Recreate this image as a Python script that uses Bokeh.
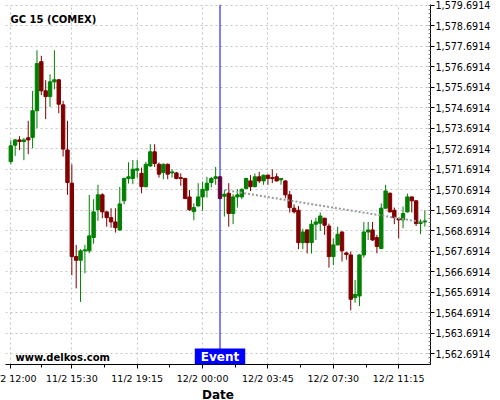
from bokeh.plotting import figure
from bokeh.models import FixedTicker, NumeralTickFormatter, Label, Span, ColumnDataSource
from bokeh.embed import file_html
from bokeh.resources import INLINE

# ---- data (15-minute bars, indexed by bar number) ----
opens = [1572.06, 1572.86, 1573.12, 1573.04, 1573.22, 1573.24, 1574.54, 1576.93, 1575.51, 1575.23,
         1575.95, 1576.05, 1574.83, 1572.63, 1571.01, 1567.43, 1567.25, 1567.71, 1567.71, 1568.36,
         1569.71, 1570.44, 1569.61, 1569.33, 1569.12, 1568.73, 1570.15, 1571.24, 1571.24, 1571.64,
         1571.49, 1570.84, 1571.85, 1572.54, 1571.93, 1571.53, 1571.93, 1571.51, 1571.51, 1571.28,
         1571.24, 1570.34, 1569.62, 1569.90, 1570.34, 1570.67, 1571.04, 1571.24, 1571.32, 1570.37,
         1570.52, 1569.53, 1570.34, 1570.34, 1570.75, 1571.12, 1570.84, 1571.32, 1571.12, 1571.40,
         1571.28, 1571.32, 1571.17, 1571.12, 1570.44, 1569.79, 1569.69, 1568.11, 1568.73, 1568.11,
         1569.01, 1569.06, 1569.30, 1568.92, 1567.43, 1568.00, 1568.63, 1567.61, 1567.51, 1565.43,
         1565.51, 1567.51, 1568.63, 1568.73, 1568.36, 1567.82, 1569.79, 1570.52, 1569.69, 1569.28,
         1569.22, 1569.61, 1570.34, 1570.15, 1569.04, 1569.12]
highs = [1573.10, 1573.15, 1573.30, 1573.22, 1574.05, 1575.51, 1577.49, 1577.22, 1576.03, 1576.32,
         1577.49, 1576.08, 1575.02, 1574.05, 1571.93, 1568.00, 1567.79, 1568.00, 1570.44, 1570.23,
         1570.93, 1570.52, 1569.64, 1569.79, 1569.79, 1570.83, 1571.28, 1572.03, 1572.14, 1572.14,
         1571.77, 1572.05, 1572.91, 1572.91, 1572.02, 1571.97, 1571.97, 1571.69, 1571.56, 1571.49,
         1571.27, 1570.68, 1570.03, 1571.01, 1571.09, 1571.32, 1571.32, 1571.80, 1571.35, 1570.68,
         1571.01, 1570.47, 1570.71, 1570.75, 1571.27, 1571.40, 1571.48, 1571.56, 1571.42, 1571.43,
         1571.69, 1571.49, 1571.26, 1571.15, 1570.63, 1569.98, 1569.90, 1568.79, 1568.76, 1569.22,
         1569.33, 1569.58, 1569.33, 1569.04, 1568.32, 1568.89, 1568.66, 1567.66, 1567.67, 1566.29,
         1567.54, 1569.12, 1569.12, 1569.12, 1568.49, 1570.02, 1570.93, 1570.55, 1569.82, 1569.33,
         1569.87, 1570.50, 1570.36, 1570.18, 1569.25, 1569.69]
lows = [1571.93, 1572.34, 1572.62, 1572.13, 1572.42, 1572.71, 1573.69, 1575.30, 1574.13, 1574.73,
        1575.59, 1574.42, 1572.31, 1570.44, 1566.52, 1565.88, 1565.22, 1566.62, 1567.59, 1568.06,
        1569.17, 1569.30, 1568.89, 1568.84, 1568.60, 1568.68, 1569.98, 1570.99, 1570.96, 1571.28,
        1570.52, 1570.80, 1571.80, 1571.80, 1571.28, 1571.20, 1571.20, 1571.28, 1571.20, 1570.88,
        1570.23, 1569.66, 1569.20, 1569.87, 1569.66, 1570.31, 1570.80, 1570.93, 1570.23, 1569.38,
        1568.89, 1569.01, 1569.82, 1570.23, 1570.73, 1570.63, 1570.80, 1571.01, 1570.93, 1570.93,
        1571.01, 1571.09, 1570.93, 1570.28, 1569.58, 1569.53, 1567.79, 1567.79, 1567.58, 1567.58,
        1568.24, 1568.68, 1568.49, 1566.89, 1567.01, 1567.98, 1567.19, 1567.28, 1564.81, 1565.18,
        1565.02, 1567.38, 1568.24, 1568.19, 1567.59, 1567.79, 1569.77, 1569.58, 1569.01, 1568.32,
        1568.81, 1569.58, 1569.58, 1568.92, 1568.52, 1568.89]
closes = [1572.83, 1573.12, 1573.04, 1573.12, 1573.12, 1574.54, 1576.84, 1575.51, 1575.23, 1575.95,
          1576.05, 1574.86, 1572.67, 1571.04, 1567.43, 1567.25, 1567.71, 1567.76, 1568.44, 1569.61,
          1570.44, 1569.61, 1569.33, 1569.12, 1568.84, 1570.00, 1571.24, 1571.32, 1571.69, 1571.71,
          1570.84, 1571.93, 1572.54, 1571.97, 1571.45, 1571.93, 1571.45, 1571.56, 1571.24, 1571.24,
          1570.26, 1569.71, 1569.82, 1570.34, 1570.71, 1571.01, 1571.24, 1571.32, 1570.26, 1570.47,
          1569.53, 1570.34, 1570.44, 1570.71, 1571.24, 1570.84, 1571.32, 1571.12, 1571.40, 1571.24,
          1571.24, 1571.12, 1571.24, 1570.44, 1569.82, 1569.61, 1568.11, 1568.63, 1568.11, 1569.01,
          1569.12, 1569.41, 1568.96, 1567.43, 1568.00, 1568.52, 1567.71, 1567.53, 1565.35, 1565.59,
          1567.51, 1568.63, 1568.73, 1568.24, 1567.92, 1569.79, 1570.63, 1569.61, 1569.33, 1569.22,
          1569.53, 1570.34, 1570.15, 1569.04, 1569.12, 1569.17]

x_tick_idx = [0, 14, 29, 44, 59, 74, 89]
x_tick_labels = ["11/2 12:00", "11/2 15:30", "11/2 19:15", "12/2 00:00",
                 "12/2 03:45", "12/2 07:30", "12/2 11:15"]
y_ticks = [1562.6914 + k for k in range(18)]

event_idx = 48
event_text = "Event"
trend_idx = [49, 95]
trend_vals = [1570.68, 1569.09]
trend_text = "Trend"
title_text = "GC 15 (COMEX)"
watermark_text = "www.delkos.com"

# ---- build ----
idx = list(range(len(opens)))
up_color, down_color = "#008000", "#800000"
colors = [up_color if c >= o else down_color for o, c in zip(opens, closes)]
src = ColumnDataSource(dict(
    x=idx, high=highs, low=lows,
    top=[max(o, c) for o, c in zip(opens, closes)],
    bottom=[min(o, c) for o, c in zip(opens, closes)],
    color=colors))

p = figure(frame_width=425, frame_height=360,
           x_range=(-1.22, 96.3), y_range=(1562.17, 1579.72),
           y_axis_location="right", output_backend="svg", toolbar_location=None,
           min_border_left=21, min_border_top=4, min_border_right=65, min_border_bottom=32,
           background_fill_color="white", border_fill_color="white",
           styles={"margin-left": "-16px"})
p.outline_line_color = None

p.segment(x0="x", y0="low", x1="x", y1="high", source=src, line_color="color", line_width=1)
p.vbar(x="x", width=0.78, top="top", bottom="bottom", source=src,
       fill_color="color", line_color="color", line_width=1)

p.line(trend_idx, trend_vals, line_color="#9a9a9a", line_width=2, line_dash="2 2")

# axes
xminor = [(a + b) / 2 for a, b in zip(x_tick_idx[:-1], x_tick_idx[1:])]
p.xaxis.ticker = FixedTicker(ticks=x_tick_idx, minor_ticks=xminor)
p.xaxis.major_label_overrides = {i: l for i, l in zip(x_tick_idx, x_tick_labels)}
yminor = [y_ticks[0] + k * 0.2 for k in range(-3, 17 * 5 + 4)]
p.yaxis.ticker = FixedTicker(ticks=y_ticks, minor_ticks=yminor)
p.yaxis.formatter = NumeralTickFormatter(format="0,0.0000")

for ax in (p.xaxis[0], p.yaxis[0]):
    ax.axis_line_color = "black"
    ax.major_tick_line_color = "black"
    ax.major_label_text_font = "DejaVu Sans"
    ax.major_label_text_color = "black"
    ax.major_tick_out = 4
    ax.major_tick_in = 0

p.xaxis.minor_tick_line_color = "black"
p.xaxis.minor_tick_out = 3
p.xaxis.minor_tick_in = 0
p.xaxis.major_label_text_font_size = "9.5px"
p.xaxis.major_label_standoff = 4
p.xaxis.axis_label = "Date"
p.xaxis.axis_label_text_font = "DejaVu Sans"
p.xaxis.axis_label_text_font_style = "bold"
p.xaxis.axis_label_text_font_size = "12px"
p.xaxis.axis_label_text_color = "black"
p.xaxis.axis_label_standoff = 1

p.yaxis.minor_tick_line_color = "#808080"
p.yaxis.minor_tick_in = 2
p.yaxis.minor_tick_out = 0
p.yaxis.major_label_text_font_size = "9.6px"
p.yaxis.major_label_standoff = 1

for g in (p.xgrid[0], p.ygrid[0]):
    g.grid_line_color = "#c4c4c4"
    g.grid_line_dash = "2 3"
    g.grid_line_width = 1

# event marker
p.add_layout(Span(location=event_idx, dimension="height", line_color="#0000ff", line_width=1))
p.add_layout(Label(x=event_idx, y=0, y_units="screen", text=event_text,
                   text_align="center", text_baseline="bottom",
                   text_font="DejaVu Sans", text_font_style="bold", text_font_size="12px",
                   text_color="white", background_fill_color="#0000ff", padding=(6, 1)))

# trend label
p.add_layout(Label(x=425, x_units="screen", y=trend_vals[-1], text=trend_text,
                   text_align="left", text_baseline="middle",
                   text_font="DejaVu Sans", text_font_style="bold", text_font_size="12px",
                   text_color="white", background_fill_color="#808080", padding=(3, 0)))

# title & watermark
p.add_layout(Label(x=5, y=344.7, x_units="screen", y_units="screen", text=title_text,
                   text_font="DejaVu Sans", text_font_style="bold", text_font_size="10px",
                   text_color="black", text_baseline="alphabetic"))
p.add_layout(Label(x=10, y=6.7, x_units="screen", y_units="screen", text=watermark_text,
                   text_font="DejaVu Sans", text_font_style="bold", text_font_size="10px",
                   text_color="black", text_baseline="alphabetic"))

open("out.html", "w").write(file_html(p, INLINE))
